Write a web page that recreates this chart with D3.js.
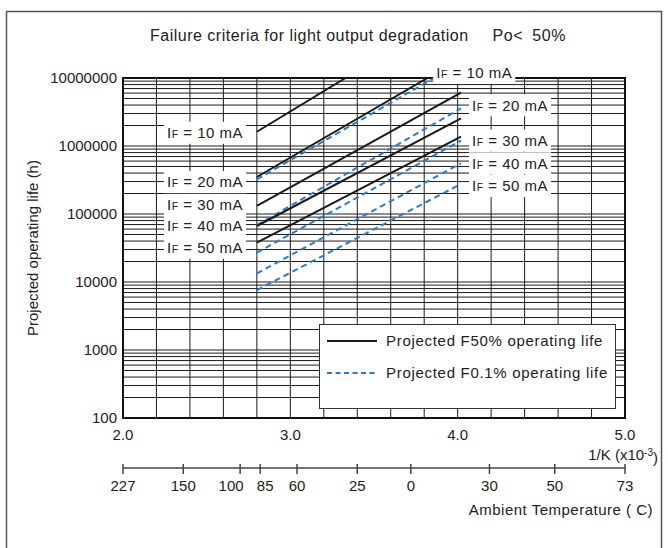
<!DOCTYPE html>
<meta charset="utf-8">
<style>
  body { margin: 0; background: #fff; }
  svg { font-family: "Liberation Sans", Arial, sans-serif; }
  text { fill: #222; }
  .grid line { stroke: #1c1c1c; stroke-width: 1; }
  .f50 { fill: none; stroke: #1a1a1a; stroke-width: 2; }
  .f01 { fill: none; stroke: #2b7bcc; stroke-width: 2; stroke-dasharray: 6,4; }
</style>
<svg width="668" height="548"></svg>
<script src="https://cdn.jsdelivr.net/npm/d3@7"></script>
<script>
  // currents (mA) for each pair of lines
  var currents = ["10", "20", "30", "40", "50"];
  // projected F50% life: [1/K (x10^-3), hours] at start and end of each line
  var f50Start = [[2.8, 1.62e6], [2.8, 3.5e5], [2.8, 1.32e5], [2.8, 6.66e4], [2.8, 3.78e4]];
  var f50End = [[3.33, 1e7], [3.82, 1e7], [4.02, 6.08e6], [4.02, 2.55e6], [4.02, 1.37e6]];
  // projected F0.1% life
  var f01Start = [[2.8, 3.24e5], [2.8, 6.89e4], [2.8, 2.7e4], [2.8, 1.34e4], [2.8, 7.6e3]];
  var f01End = [[3.86, 1e7], [4.02, 3.58e6], [4.02, 1.2e6], [4.02, 5.57e5], [4.02, 2.76e5]];

  var yTicks = [100, 1000, 10000, 100000, 1000000, 10000000];
  var xTicks = [2.0, 3.0, 4.0, 5.0];
  var tempLabels = ["227", "150", "100", "85", "60", "25", "0", "30", "50", "73"];
  var tempPos = [2.0, 2.36, 2.70, 2.82, 3.04, 3.40, 3.72, 4.19, 4.58, 5.0];

  var svg = d3.select("svg");
  var x = d3.scaleLinear().domain([2, 5]).range([123, 625]);
  var y = d3.scaleLog().domain([100, 1e7]).range([418, 78]);

  // outer frame
  svg.append("rect")
    .attr("x", 6.5).attr("y", 11.5).attr("width", 655).attr("height", 560)
    .attr("fill", "none").attr("stroke", "#555").attr("stroke-width", 1.5);

  svg.append("text")
    .attr("x", 150).attr("y", 35).attr("dy", "0.35em")
    .style("font-size", "16px").style("letter-spacing", "0.5px")
    .text("Failure criteria for light output degradation");
  svg.append("text")
    .attr("x", 566).attr("y", 35).attr("dy", "0.35em")
    .attr("text-anchor", "end")
    .style("font-size", "16px").style("letter-spacing", "0.6px").style("word-spacing", "4px")
    .text("Po< 50%");

  // grid
  var grid = svg.append("g").attr("class", "grid");
  grid.selectAll(".v").data(d3.range(2.2, 4.9, 0.2)).enter().append("line")
    .attr("x1", d => x(d)).attr("x2", d => x(d))
    .attr("y1", y(100)).attr("y2", y(1e7));
  grid.selectAll(".h").data(y.ticks()).enter().append("line")
    .attr("x1", x(2)).attr("x2", x(5))
    .attr("y1", d => y(d)).attr("y2", d => y(d));

  // frame of plot
  svg.append("rect")
    .attr("x", x(2)).attr("y", y(1e7))
    .attr("width", x(5) - x(2)).attr("height", y(100) - y(1e7))
    .attr("fill", "none").attr("stroke", "#111").attr("stroke-width", 2);

  // y axis labels
  svg.append("g").selectAll("text").data(yTicks).enter().append("text")
    .attr("x", 117).attr("y", d => y(d)).attr("dy", "0.35em")
    .attr("text-anchor", "end").style("font-size", "15px")
    .text(d => d);
  svg.append("text")
    .attr("transform", "translate(33," + ((y(100) + y(1e7)) / 2) + ") rotate(-90)")
    .attr("dy", "0.35em").attr("text-anchor", "middle").style("font-size", "15px")
    .text("Projected operating life (h)");

  // x axis labels
  svg.append("g").selectAll("text").data(xTicks).enter().append("text")
    .attr("x", d => x(d)).attr("y", 435).attr("dy", "0.35em")
    .attr("text-anchor", "middle").style("font-size", "15px")
    .text(d => d.toFixed(1));
  var kl = svg.append("text")
    .attr("x", 658).attr("y", 455).attr("dy", "0.35em")
    .attr("text-anchor", "end").style("font-size", "15px");
  kl.append("tspan").text("1/K (x10");
  kl.append("tspan").attr("dy", "-0.45em").style("font-size", "10px").text("-3");
  kl.append("tspan").attr("dy", "0.45em").text(")");

  // ambient temperature axis
  var tg = svg.append("g");
  tg.append("line")
    .attr("x1", x(2)).attr("x2", x(5)).attr("y1", 468).attr("y2", 468)
    .attr("stroke", "#444").attr("stroke-width", 1.5);
  tg.selectAll(".t").data(tempPos).enter().append("line")
    .attr("x1", d => x(d)).attr("x2", d => x(d)).attr("y1", 464).attr("y2", 474)
    .attr("stroke", "#444").attr("stroke-width", 1.5);
  // crowded labels (100, 85) are pushed apart a little
  var tempShift = [0, 0, -9, 5, 0, 0, 0, 0, 0, 0];
  tg.selectAll("text").data(tempPos).enter().append("text")
    .attr("x", (d, i) => x(d) + tempShift[i]).attr("y", 486).attr("dy", "0.35em")
    .attr("text-anchor", "middle").style("font-size", "15px")
    .text((d, i) => tempLabels[i]);
  svg.append("text")
    .attr("x", 653).attr("y", 510).attr("dy", "0.35em")
    .attr("text-anchor", "end").style("font-size", "15px").style("letter-spacing", "0.5px")
    .text("Ambient Temperature ( C)");

  // data lines
  svg.append("clipPath").attr("id", "clip").append("rect")
    .attr("x", x(2)).attr("y", y(1e7)).attr("width", x(5) - x(2)).attr("height", y(100) - y(1e7));
  var line = d3.line().x(d => x(d[0])).y(d => y(d[1]));
  var lines = svg.append("g").attr("clip-path", "url(#clip)");
  lines.selectAll(".f01").data(currents).enter().append("path")
    .attr("class", "f01")
    .attr("d", (d, i) => line([f01Start[i], f01End[i]]));
  lines.selectAll(".f50").data(currents).enter().append("path")
    .attr("class", "f50")
    .attr("d", (d, i) => line([f50Start[i], f50End[i]]));

  function label(tx, ty, mA) {
    var g = svg.append("g");
    var t = g.append("text").attr("x", tx).attr("y", ty).attr("dy", "0.35em")
      .style("font-size", "15px").style("letter-spacing", "0.5px").style("white-space", "pre");
    t.append("tspan").text("I");
    t.append("tspan").style("font-size", "10.5px").text("F");
    t.append("tspan").text(" = " + mA + " mA");
    var b = t.node().getBBox();
    g.insert("rect", "text")
      .attr("x", b.x - 3).attr("y", ty - 11).attr("width", b.width + 6).attr("height", 22)
      .attr("fill", "#fff");
  }
  // left labels name the F50% lines, right labels the F0.1% lines
  var leftNudge = [1, 5, -1, 0, 5];
  var rightNudge = [-5, -3, 0, 0, 2];
  currents.forEach(function(c, i) {
    label(167, y(f50Start[i][1]) + leftNudge[i], c);
    var rx = i === 0 ? x(f01End[i][0]) + 2 : x(f01End[i][0]) + 11;
    label(rx, y(f01End[i][1]) + rightNudge[i], c);
  });

  // legend
  var lg = svg.append("g");
  lg.append("rect")
    .attr("x", 319.5).attr("y", 324.5).attr("width", 296).attr("height", 84)
    .attr("fill", "#fff").attr("stroke", "#333").attr("stroke-width", 1);
  lg.append("line").attr("class", "f50")
    .attr("x1", 327).attr("x2", 377).attr("y1", 341).attr("y2", 341);
  lg.append("line").attr("class", "f01").style("stroke-dasharray", "5,3.5")
    .attr("x1", 327).attr("x2", 377).attr("y1", 373).attr("y2", 373);
  lg.append("text").attr("x", 386).attr("y", 341).attr("dy", "0.35em")
    .style("font-size", "15px").style("letter-spacing", "0.7px")
    .text("Projected F50% operating life");
  lg.append("text").attr("x", 386).attr("y", 373).attr("dy", "0.35em")
    .style("font-size", "15px").style("letter-spacing", "0.7px")
    .text("Projected F0.1% operating life");
</script>
